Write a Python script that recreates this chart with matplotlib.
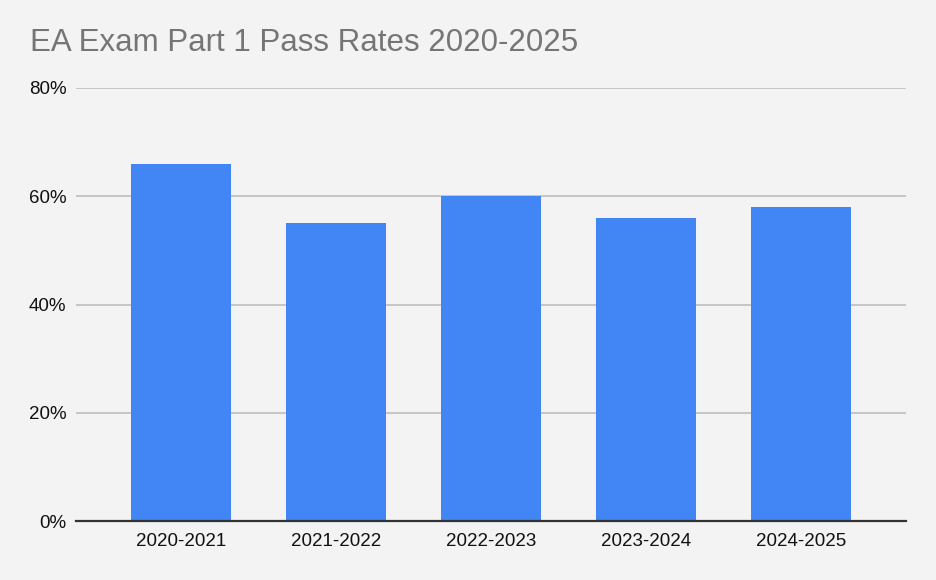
import numpy as np
import matplotlib
matplotlib.use("Agg")
import matplotlib.pyplot as plt
from matplotlib import ticker as mplticker

periods = ["2020-2021", "2021-2022", "2022-2023", "2023-2024", "2024-2025"]
pass_rates = [66, 55, 60, 56, 58]
y_ticks = [0, 20, 40, 60, 80]

plt.rcParams['font.family'] = ['Liberation Sans', 'DejaVu Sans']

fig = plt.figure(figsize=(9.36, 5.8), dpi=100)
fig.patch.set_facecolor('#f3f3f3')
ax = fig.add_axes([76/936, 1 - 521/580, (906 - 76)/936, (521 - 88)/580])
ax.set_facecolor('#f3f3f3')

x = np.arange(len(periods))
ax.bar(x, pass_rates, width=0.65, color='#4285f4', zorder=3)

ax.set_xlim(-0.677, len(periods) - 1 + 0.677)
ax.set_ylim(0, 80)
ax.set_yticks(y_ticks)
ax.yaxis.set_major_formatter(mplticker.FuncFormatter(lambda v, _: '{:g}%'.format(v)))
ax.set_xticks(x)
ax.set_xticklabels(periods)

ax.grid(axis='y', color='#bdbdbd', linewidth=1.2, zorder=0)
for s in ['top', 'right', 'left']:
  ax.spines[s].set_visible(False)
ax.spines['bottom'].set_color('#333333')
ax.spines['bottom'].set_linewidth(1.6)
ax.spines['bottom'].set_zorder(4)
ax.tick_params(axis='both', length=0, labelsize=13.5, colors='#111111')
ax.tick_params(axis='y', pad=7)
ax.tick_params(axis='x', pad=9)

fig.text(30/936, 1 - 43/580, "EA Exam Part 1 Pass Rates 2020-2025", fontsize=22.5,
         color='#757575', ha='left', va='center')

fig.savefig("out.png", dpi=100, facecolor=fig.get_facecolor())
